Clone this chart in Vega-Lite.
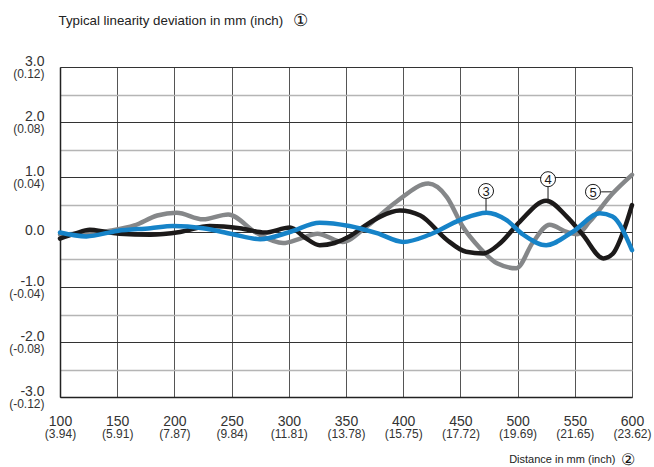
{
  "$schema": "https://vega.github.io/schema/vega-lite/v6.json",
  "width": 572,
  "height": 330,
  "autosize": {"type": "none"},
  "padding": {"left": 60, "top": 67, "right": 22, "bottom": 70},
  "config": {"view": {"stroke": null}, "font": "Liberation Sans"},
  "datasets": {
    "curves": [
      {"s": "gray", "d": 100, "v": -0.05}, {"s": "gray", "d": 125, "v": -0.02}, {"s": "gray", "d": 145, "v": 0.03}, {"s": "gray", "d": 165, "v": 0.12}, {"s": "gray", "d": 185, "v": 0.3}, {"s": "gray", "d": 202, "v": 0.35}, {"s": "gray", "d": 225, "v": 0.23}, {"s": "gray", "d": 247, "v": 0.32}, {"s": "gray", "d": 272, "v": -0.02}, {"s": "gray", "d": 295, "v": -0.2}, {"s": "gray", "d": 310, "v": -0.12}, {"s": "gray", "d": 325, "v": -0.03}, {"s": "gray", "d": 347, "v": -0.18}, {"s": "gray", "d": 368, "v": 0.1}, {"s": "gray", "d": 394, "v": 0.55}, {"s": "gray", "d": 422, "v": 0.88}, {"s": "gray", "d": 438, "v": 0.64}, {"s": "gray", "d": 452, "v": 0.1}, {"s": "gray", "d": 467, "v": -0.29}, {"s": "gray", "d": 482, "v": -0.57}, {"s": "gray", "d": 499, "v": -0.66}, {"s": "gray", "d": 513, "v": -0.2}, {"s": "gray", "d": 528, "v": 0.13}, {"s": "gray", "d": 543, "v": 0.0}, {"s": "gray", "d": 552, "v": -0.04}, {"s": "gray", "d": 563, "v": 0.19}, {"s": "gray", "d": 583, "v": 0.7}, {"s": "gray", "d": 600, "v": 1.04},
      {"s": "black", "d": 100, "v": -0.12}, {"s": "black", "d": 113, "v": -0.03}, {"s": "black", "d": 126, "v": 0.04}, {"s": "black", "d": 140, "v": 0.0}, {"s": "black", "d": 152, "v": -0.03}, {"s": "black", "d": 179, "v": -0.05}, {"s": "black", "d": 205, "v": 0.0}, {"s": "black", "d": 231, "v": 0.11}, {"s": "black", "d": 257, "v": 0.07}, {"s": "black", "d": 279, "v": -0.01}, {"s": "black", "d": 301, "v": 0.08}, {"s": "black", "d": 314, "v": -0.1}, {"s": "black", "d": 327, "v": -0.24}, {"s": "black", "d": 340, "v": -0.2}, {"s": "black", "d": 353, "v": -0.08}, {"s": "black", "d": 367, "v": 0.12}, {"s": "black", "d": 380, "v": 0.28}, {"s": "black", "d": 397, "v": 0.39}, {"s": "black", "d": 415, "v": 0.3}, {"s": "black", "d": 438, "v": -0.14}, {"s": "black", "d": 455, "v": -0.36}, {"s": "black", "d": 470, "v": -0.39}, {"s": "black", "d": 485, "v": -0.2}, {"s": "black", "d": 502, "v": 0.19}, {"s": "black", "d": 525, "v": 0.57}, {"s": "black", "d": 543, "v": 0.28}, {"s": "black", "d": 557, "v": -0.05}, {"s": "black", "d": 575, "v": -0.48}, {"s": "black", "d": 583, "v": -0.4}, {"s": "black", "d": 595, "v": 0.16}, {"s": "black", "d": 600, "v": 0.49},
      {"s": "blue", "d": 100, "v": -0.01}, {"s": "blue", "d": 123, "v": -0.08}, {"s": "blue", "d": 150, "v": 0.02}, {"s": "blue", "d": 179, "v": 0.07}, {"s": "blue", "d": 199, "v": 0.11}, {"s": "blue", "d": 225, "v": 0.07}, {"s": "blue", "d": 251, "v": -0.04}, {"s": "blue", "d": 275, "v": -0.13}, {"s": "blue", "d": 301, "v": 0.0}, {"s": "blue", "d": 327, "v": 0.17}, {"s": "blue", "d": 353, "v": 0.11}, {"s": "blue", "d": 377, "v": -0.02}, {"s": "blue", "d": 400, "v": -0.18}, {"s": "blue", "d": 423, "v": -0.05}, {"s": "blue", "d": 450, "v": 0.22}, {"s": "blue", "d": 473, "v": 0.35}, {"s": "blue", "d": 490, "v": 0.22}, {"s": "blue", "d": 505, "v": -0.05}, {"s": "blue", "d": 525, "v": -0.24}, {"s": "blue", "d": 548, "v": 0.0}, {"s": "blue", "d": 572, "v": 0.34}, {"s": "blue", "d": 583, "v": 0.28}, {"s": "blue", "d": 600, "v": -0.33}
    ],
    "notes": [
      {"label": "3", "cx": 472.4, "cy": 0.745, "x1": 472.4, "x2": 472.4, "y1": 0.6, "y2": 0.36},
      {"label": "4", "cx": 526.6, "cy": 0.96, "x1": 526.6, "x2": 526.6, "y1": 0.82, "y2": 0.6},
      {"label": "5", "cx": 565.9, "cy": 0.73, "x1": 573, "x2": 586, "y1": 0.73, "y2": 0.73}
    ]
  },
  "layer": [
    {
      "data": {"name": "notes"},
      "mark": {"type": "rule", "color": "#1a1a1a", "strokeWidth": 1},
      "encoding": {
        "x": {"field": "x1", "type": "quantitative", "scale": {"domain": [100, 600], "nice": false, "zero": false},
          "axis": {"orient": "bottom", "values": [100, 150, 200, 250, 300, 350, 400, 450, 500, 550, 600],
            "labelExpr": "'(' + format(datum.value / 25.4, '.2f') + ')'", "labelFontSize": 12, "labelColor": "#333",
            "labelPadding": 31, "labelBaseline": "top", "labelFlush": false, "labelOverlap": false,
            "ticks": false, "tickSize": 0, "domain": false, "grid": false,
            "title": "②", "titleFontSize": 16, "titleFontWeight": "normal", "titleColor": "#111",
            "titleAlign": "center", "titleBaseline": "middle", "titleX": 567, "titleY": 62}},
        "x2": {"field": "x2"},
        "y": {"field": "y1", "type": "quantitative", "scale": {"domain": [-3, 3], "nice": false},
          "axis": {"orient": "left", "values": [-3, -2, -1, 1, 2, 3],
            "labelExpr": "'(' + replace(format(datum.value * 0.04, '.2f'), '\u2212', '-') + ')'",
            "labelFontSize": 12, "labelColor": "#333", "labelBaseline": "top", "labelOffset": 1.5,
            "labelPadding": 16, "labelAlign": "right", "labelOverlap": false,
            "ticks": false, "tickSize": 0, "domain": false, "grid": false,
            "title": "①", "titleFontSize": 17, "titleFontWeight": "normal", "titleColor": "#111",
            "titleAngle": 0, "titleAlign": "center", "titleBaseline": "middle", "titleX": 240, "titleY": -47}},
        "y2": {"field": "y2"}
      }
    },
    {
      "data": {"name": "curves"},
      "mark": {"type": "line", "interpolate": "monotone", "strokeWidth": 4.5, "strokeCap": "round", "strokeJoin": "round"},
      "encoding": {
        "x": {"field": "d", "type": "quantitative", "scale": {"domain": [100, 600], "nice": false, "zero": false},
          "axis": {"orient": "bottom", "values": [100, 150, 200, 250, 300, 350, 400, 450, 500, 550, 600],
            "format": "d", "labelFontSize": 14, "labelColor": "#333", "labelPadding": 17, "labelBaseline": "top",
            "labelFlush": false, "labelOverlap": false,
            "ticks": false, "tickSize": 0, "domain": true, "domainColor": "#222", "domainWidth": 1.5,
            "grid": true, "gridColor": "#555", "gridWidth": 1,
            "title": "Distance in mm (inch)", "titleFontSize": 11, "titleFontWeight": "normal", "titleColor": "#222",
            "titleAlign": "right", "titleBaseline": "middle", "titleX": 555, "titleY": 62}},
        "y": {"field": "v", "type": "quantitative", "scale": {"domain": [-3, 3], "nice": false},
          "axis": {"orient": "left", "values": [-3, -2, -1, 0, 1, 2, 3],
            "labelExpr": "replace(format(datum.value, '.1f'), '\u2212', '-')",
            "labelFontSize": 14, "labelColor": "#333",
            "labelBaseline": {"condition": {"test": "datum.value === 0", "value": "middle"}, "value": "alphabetic"},
            "labelOffset": -1.5, "labelPadding": 16, "labelAlign": "right", "labelOverlap": false,
            "ticks": false, "tickSize": 0, "domain": true, "domainColor": "#222", "domainWidth": 1.5,
            "grid": true, "gridColor": "#333", "gridWidth": 1,
            "title": "Typical linearity deviation in mm (inch)", "titleFontSize": 13.3, "titleFontWeight": "normal", "titleColor": "#222",
            "titleAngle": 0, "titleAlign": "left", "titleBaseline": "middle", "titleX": -2, "titleY": -47}},
        "color": {"field": "s", "type": "nominal", "sort": null,
          "scale": {"domain": ["gray", "black", "blue"], "range": ["#858789", "#1c1a1a", "#1683c8"]}, "legend": null}
      }
    },
    {
      "data": {"name": "notes"},
      "mark": {"type": "point", "shape": "circle", "size": 225, "fill": "white", "stroke": "#1a1a1a", "strokeWidth": 1, "opacity": 1},
      "encoding": {
        "x": {"field": "cx", "type": "quantitative", "scale": {"domain": [100, 600], "nice": false, "zero": false}, "axis": null},
        "y": {"field": "cy", "type": "quantitative", "scale": {"domain": [-3, 3], "nice": false},
          "axis": {"orient": "left", "values": [-2.5, -1.5, -0.5, 0.5, 1.5, 2.5], "labels": false, "ticks": false, "tickSize": 0,
            "domain": false, "grid": true, "gridColor": "#b5b5b5", "gridWidth": 1.5, "title": null}}
      }
    },
    {
      "data": {"name": "notes"},
      "mark": {"type": "text", "fontSize": 13, "color": "#1a1a1a", "align": "center", "baseline": "middle", "dy": 1},
      "encoding": {
        "x": {"field": "cx", "type": "quantitative", "scale": {"domain": [100, 600], "nice": false, "zero": false}, "axis": null},
        "y": {"field": "cy", "type": "quantitative", "scale": {"domain": [-3, 3], "nice": false}, "axis": null},
        "text": {"field": "label"}
      }
    }
  ],
  "resolve": {"axis": {"x": "independent", "y": "independent"}}
}
